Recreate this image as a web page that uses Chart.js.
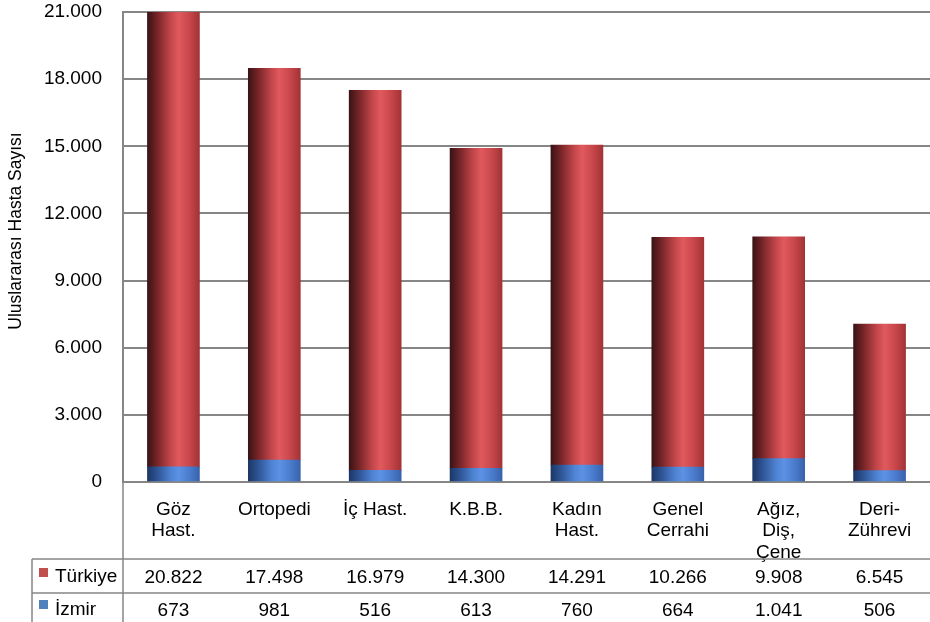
<!DOCTYPE html>
<html>
<head>
<meta charset="utf-8">
<script src="https://cdn.jsdelivr.net/npm/chart.js@4/dist/chart.umd.min.js"></script>
<style>
  html, body { margin: 0; padding: 0; background: #fff; }
  #wrap { width: 930px; height: 622px; }
</style>
</head>
<body>
<div id="wrap"><canvas id="c" width="930" height="622"></canvas></div>
<script>
// ---- data ----
const categories = [["Göz","Hast."], "Ortopedi", "İç Hast.", "K.B.B.", ["Kadın","Hast."], ["Genel","Cerrahi"], ["Ağız,","Diş,","Çene"], ["Deri-","Zührevi"]];
const izmir    = [673, 981, 516, 613, 760, 664, 1041, 506];
const turkiye  = [20822, 17498, 16979, 14300, 14291, 10266, 9908, 6545];
const seriesNames = ["Türkiye", "İzmir"];
const axisTitle = "Uluslararası Hasta Sayısı";
const yTicks = [0, 3000, 6000, 9000, 12000, 15000, 18000, 21000];

const FONT = '"Liberation Sans", Arial, sans-serif';
const fmt = v => String(v).replace(/\B(?=(\d{3})+(?!\d))/g, '.');
const BAR_W = 52;

function makeGrad(ctx, stops, flat) {
  const chart = ctx.chart;
  const xs = chart.scales && chart.scales.x;
  if (!xs || !chart.chartArea) return flat;
  const cx = xs.getPixelForValue(ctx.dataIndex);
  const g = chart.ctx.createLinearGradient(cx - BAR_W / 2, 0, cx + BAR_W / 2, 0);
  stops.forEach(s => g.addColorStop(s[0], s[1]));
  return g;
}
const redStops = [[0, '#3a1315'], [0.2, '#7a2629'], [0.45, '#c4474b'], [0.6, '#e0595d'], [0.8, '#c9474b'], [1, '#a23336']];
const blueStops = [[0, '#1c3766'], [0.2, '#2f5697'], [0.45, '#4f83d3'], [0.6, '#5c91e4'], [0.8, '#4b7dcd'], [1, '#3962ad']];

Chart.defaults.font.family = FONT;
Chart.defaults.color = '#000';

const GRID = '#868686';

const tablePlugin = {
  id: 'tablePlugin',
  afterDraw(chart) {
    const c = chart.ctx;
    const xs = chart.scales.x;
    const area = chart.chartArea;
    c.save();
    // table lines
    c.strokeStyle = GRID;
    c.lineWidth = 1.5;
    c.beginPath();
    c.moveTo(area.left, area.bottom); c.lineTo(area.left, 622);
    c.moveTo(32, 559); c.lineTo(930, 559);
    c.moveTo(32, 593); c.lineTo(930, 593);
    c.moveTo(32, 559); c.lineTo(32, 622);
    c.stroke();
    // values
    c.fillStyle = '#000';
    c.font = '19px ' + FONT;
    c.textAlign = 'center';
    c.textBaseline = 'middle';
    for (let i = 0; i < categories.length; i++) {
      const x = xs.getPixelForValue(i);
      c.fillText(fmt(turkiye[i]), x, 578);
      c.fillText(fmt(izmir[i]), x, 611);
    }
    // legend keys
    c.fillStyle = '#c0504d';
    c.fillRect(39, 568, 9, 9);
    c.fillStyle = '#4f81bd';
    c.fillRect(39, 600, 9, 9);
    c.fillStyle = '#000';
    c.textAlign = 'left';
    c.fillText(seriesNames[0], 55, 577);
    c.fillText(seriesNames[1], 55, 610);
    // axis title
    c.save();
    c.translate(16, 231);
    c.rotate(-Math.PI / 2);
    c.textAlign = 'center';
    c.font = '17.5px ' + FONT;
    c.fillText(axisTitle, 0, 0);
    c.restore();
    c.restore();
  }
};

new Chart(document.getElementById('c'), {
  type: 'bar',
  data: {
    labels: categories,
    datasets: [
      {
        label: seriesNames[1],
        data: izmir,
        backgroundColor: ctx => makeGrad(ctx, blueStops, '#4f81bd'),
        barThickness: BAR_W,
        borderWidth: 0,
        clip: 0
      },
      {
        label: seriesNames[0],
        data: turkiye,
        backgroundColor: ctx => makeGrad(ctx, redStops, '#c0504d'),
        barThickness: BAR_W,
        borderWidth: 0,
        clip: 0
      }
    ]
  },
  options: {
    responsive: false,
    animation: false,
    devicePixelRatio: 1,
    layout: { padding: { top: 12, right: 0, bottom: 0, left: 0 } },
    plugins: { legend: { display: false }, tooltip: { enabled: false } },
    scales: {
      x: {
        stacked: true,
        grid: { display: false, drawTicks: false },
        border: { display: true, color: GRID, width: 2 },
        ticks: { font: { size: 19, lineHeight: 1.13 }, padding: 17, maxRotation: 0, autoSkip: false, color: '#000' },
        afterFit: s => { s.height = 140; s.paddingLeft = 0; s.paddingRight = 0; }
      },
      y: {
        stacked: true,
        min: 0,
        max: 21000,
        afterBuildTicks: s => { s.ticks = yTicks.map(v => ({ value: v })); },
        grid: { color: GRID, lineWidth: 2, drawTicks: false },
        border: { display: true, color: GRID, width: 2 },
        ticks: { font: { size: 19 }, padding: 21, color: '#000', callback: v => fmt(v) },
        afterFit: s => { s.width = 123; s.paddingTop = 0; s.paddingBottom = 0; }
      }
    }
  },
  plugins: [tablePlugin]
});
</script>
</body>
</html>
